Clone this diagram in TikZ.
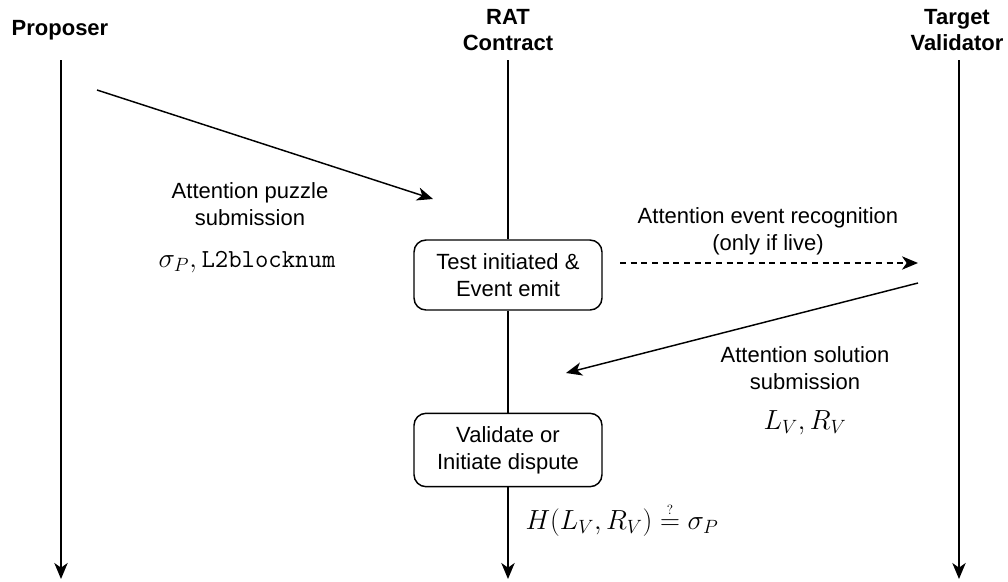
\documentclass[tikz,border=0pt]{standalone}
\usepackage{fontspec}
\setmainfont{Liberation Sans}
\usetikzlibrary{arrows.meta}
\tikzset{
  lifeline/.style={line width=1.3pt, -{Stealth[length=12pt,width=10pt,inset=3.5pt]}},
  msg/.style={line width=1.1pt, -{Stealth[length=12pt,width=10pt,inset=3.5pt]}},
  dmsg/.style={msg, dash pattern=on 4.5pt off 3.5pt},
  plain/.style={line width=1.3pt},
  title/.style={font=\fontsize{16.5}{20}\selectfont\bfseries, align=center, inner sep=0pt},
  lbl/.style={font=\fontsize{16.5}{20.25}\selectfont, align=center, inner sep=0pt},
  mlbl/.style={font=\fontsize{19.5}{23}\selectfont, inner sep=0pt},
  procbox/.style={draw, line width=1.1pt, rounded corners=9pt, minimum width=141pt, align=center,
    font=\fontsize{16.5}{20.25}\selectfont, inner sep=0pt}
}
\begin{document}
\begin{tikzpicture}[x=0.75pt,y=-0.75pt]
\useasboundingbox (0,0) rectangle (1008,582);
% titles
\node[title] (tP) at (60,30) {Proposer};
\node[title] (tR) at (508,30) {RAT\\Contract};
\node[title] (tV) at (957,30) {Target\\Validator};
% lifeline coordinates
\coordinate (P0) at (61,60);
\coordinate (P1) at (61,579);
\coordinate (R0) at (508,60);
\coordinate (R1) at (508,579);
\coordinate (V0) at (959,60);
\coordinate (V1) at (959,579);
% boxes
\node[procbox, minimum height=52.5pt] (b1) at (508,275) {Test initiated \&\\Event emit};
\node[procbox, minimum height=55pt] (b2) at (508,450) {Validate or\\Initiate dispute};
% lifelines
\draw[lifeline] (P0) -- (P1);
\draw[lifeline] (V0) -- (V1);
\draw[plain] (R0) -- (b1.north);
\draw[plain] (b1.south) -- (b2.north);
\draw[lifeline] (b2.south) -- (R1);
% messages
\coordinate (m1a) at (97,90);
\coordinate (m1b) at (433,199);
\draw[msg] (m1a) -- (m1b);
\coordinate (m2a) at (620,263);
\coordinate (m2b) at (918,263);
\draw[dmsg] (m2a) -- (m2b);
\coordinate (m3a) at (918,283);
\coordinate (m3b) at (566,373);
\draw[msg] (m3a) -- (m3b);
% labels
\node[lbl] (l1) at (250,204) {Attention puzzle\\submission};
\node[mlbl] (l1m) at (247,262) {$\sigma_P, \texttt{L2blocknum}$};
\node[lbl] (l2) at (768,231) {Attention event recognition\\(only if live)};
\node[lbl] (l3) at (805,368) {Attention solution\\submission};
\node[mlbl] (l3m) at (805,423) {$L_V, R_V$};
\node[mlbl] (l4) at (622,520) {$H(L_V,R_V)\stackrel{\raisebox{1.5pt}{$\scriptscriptstyle ?$}}{=}\sigma_P$};
\end{tikzpicture}
\end{document}
